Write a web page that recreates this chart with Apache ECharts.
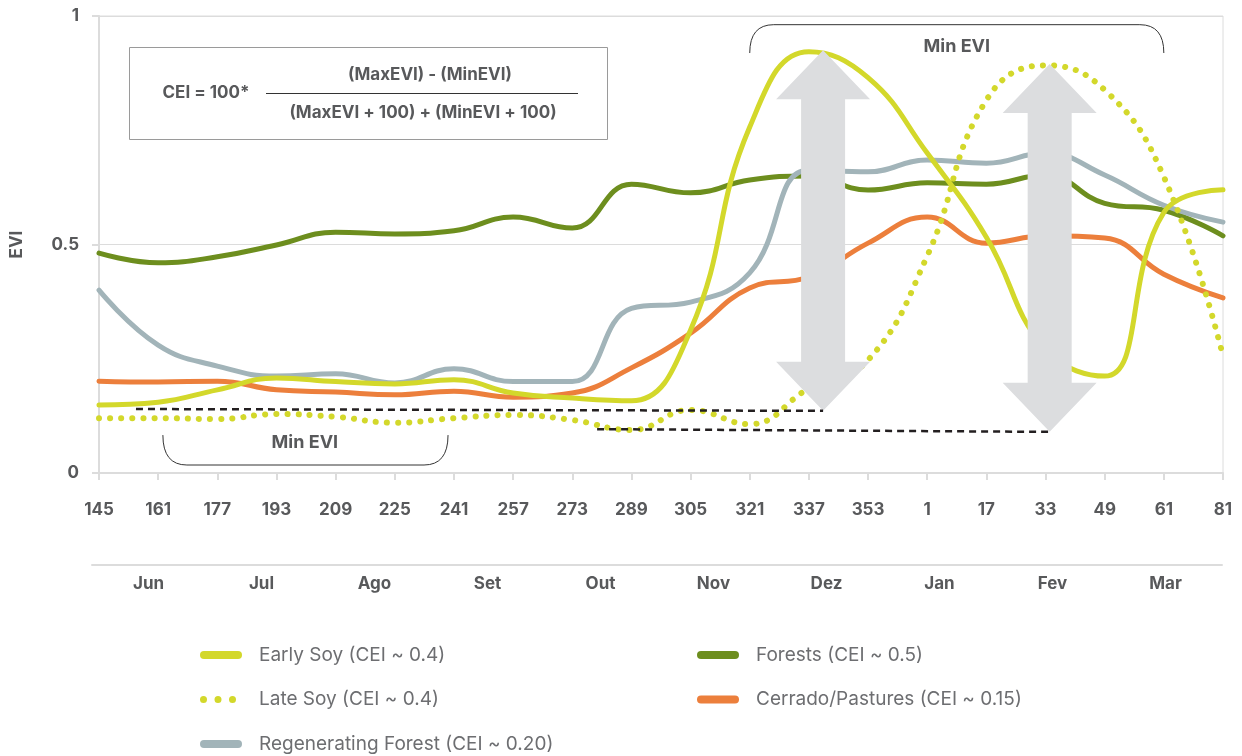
<!DOCTYPE html>
<html>
<head>
<meta charset="utf-8">
<script src="https://cdn.jsdelivr.net/npm/echarts@6/dist/echarts.min.js"></script>
<style>
  html, body { margin: 0; padding: 0; background: #fff; }
  #chart { width: 1242px; height: 756px; }
</style>
</head>
<body>
<div id="chart"></div>
<script>
// day-of-year ticks and months
const days = ['145', '161', '177', '193', '209', '225', '241', '257', '273', '289',
  '305', '321', '337', '353', '1', '17', '33', '49', '61', '81'];
const months = ['Jun', 'Jul', 'Ago', 'Set', 'Out', 'Nov', 'Dez', 'Jan', 'Fev', 'Mar'];

// EVI
const earlySoy = [0.149, 0.155, 0.182, 0.208, 0.200, 0.195, 0.204, 0.175, 0.164, 0.158,
  0.313, 0.757, 0.922, 0.865, 0.700, 0.516, 0.270, 0.212, 0.570, 0.620];
const lateSoy = [0.120, 0.120, 0.118, 0.129, 0.123, 0.110, 0.120, 0.127, 0.116, 0.094,
  0.138, 0.107, 0.185, 0.247, 0.475, 0.816, 0.892, 0.838, 0.648, 0.256];
const forests = [0.481, 0.460, 0.473, 0.499, 0.527, 0.523, 0.530, 0.560, 0.536, 0.632,
  0.613, 0.641, 0.650, 0.619, 0.635, 0.632, 0.652, 0.590, 0.575, 0.519];
const regenForest = [0.400, 0.280, 0.234, 0.212, 0.217, 0.197, 0.228, 0.200, 0.200, 0.360,
  0.374, 0.438, 0.663, 0.659, 0.685, 0.678, 0.700, 0.652, 0.586, 0.549];
const cerrado = [0.201, 0.199, 0.201, 0.182, 0.177, 0.171, 0.179, 0.166, 0.175, 0.230,
  0.306, 0.405, 0.429, 0.503, 0.560, 0.503, 0.519, 0.514, 0.435, 0.383];

const names = {
  early: 'Early Soy (CEI ~ 0.4)',
  late: 'Late Soy (CEI ~ 0.4)',
  regen: 'Regenerating Forest (CEI ~ 0.20)',
  forest: 'Forests (CEI ~ 0.5)',
  cerrado: 'Cerrado/Pastures (CEI ~ 0.15)',
};

const colors = {
  early: '#d3d82b',
  forest: '#6d8e1e',
  regen: '#a2b4b9',
  cerrado: '#ec7f3c',
};

const FONT = 'Inter';
const TXT = '#58595b';

// legend icons: pill and three dots, padded to 54 wide so the text sits further right
const pillIcon = 'path://M4,0 L38,0 A4,4 0 0 1 38,8 L4,8 A4,4 0 0 1 4,0 Z M54,0';
const dotsIcon = 'path://M0,4 a3.5,3.5 0 1,0 7,0 a3.5,3.5 0 1,0 -7,0 Z ' +
  'M14.5,4 a3.5,3.5 0 1,0 7,0 a3.5,3.5 0 1,0 -7,0 Z ' +
  'M29,4 a3.5,3.5 0 1,0 7,0 a3.5,3.5 0 1,0 -7,0 Z M0,0 M54,8';

const chart = echarts.init(document.getElementById('chart'));

const lineSeries = (name, data, color, extra) => Object.assign({
  name: name,
  type: 'line',
  data: data,
  smooth: 0.45,
  symbol: 'none',
  color: color,
  lineStyle: { width: 5, color: color, cap: 'round' },
  emphasis: { disabled: true },
}, extra || {});

const legendBase = {
  orient: 'vertical',
  padding: 0,
  height: 130,
  itemWidth: 54,
  itemHeight: 8,
  itemGap: 22.5,
  selectedMode: false,
  itemStyle: { borderWidth: 0 },
  textStyle: { fontFamily: FONT, fontSize: 19, color: '#6d6e71', lineHeight: 22 },
};

const axisFont = { fontFamily: FONT, fontWeight: 'bold', fontSize: 17, color: TXT };

chart.setOption({
  animation: false,
  grid: [
    { left: 99, right: 19, top: 16, bottom: 283, show: true, borderColor: '#dcdcdc', borderWidth: 1 },
    { left: 92, right: 20, top: 564, height: 1 },
  ],
  xAxis: [
    {
      type: 'category',
      data: days,
      boundaryGap: false,
      axisLine: { lineStyle: { color: '#dcdcdc', width: 2 } },
      axisTick: { length: 7, lineStyle: { color: '#dcdcdc', width: 2 } },
      axisLabel: Object.assign({ margin: 28, interval: 0 }, axisFont),
      splitLine: { show: false },
    },
    {
      type: 'category',
      gridIndex: 1,
      data: months,
      boundaryGap: true,
      axisLine: { lineStyle: { color: '#dcdcdc', width: 2 } },
      axisTick: { length: 9, lineStyle: { color: '#dcdcdc', width: 2 } },
      axisLabel: Object.assign({ margin: 10 }, axisFont),
    },
  ],
  yAxis: [
    {
      type: 'value',
      min: 0,
      max: 1,
      interval: 0.5,
      name: 'EVI',
      nameLocation: 'middle',
      nameRotate: 90,
      nameGap: 74,
      nameTextStyle: axisFont,
      axisLine: { show: true, lineStyle: { color: '#dcdcdc', width: 2 } },
      axisTick: { show: true, length: 7, lineStyle: { color: '#dcdcdc', width: 2 } },
      axisLabel: Object.assign({ margin: 20 }, axisFont),
      splitLine: { lineStyle: { color: '#dcdcdc', width: 1 } },
    },
    { type: 'value', gridIndex: 1, show: false },
  ],
  legend: [
    Object.assign({}, legendBase, {
      left: 200,
      top: 644,
      data: [
        { name: names.early, icon: pillIcon },
        { name: names.late, icon: dotsIcon },
        { name: names.regen, icon: pillIcon },
      ],
    }),
    Object.assign({}, legendBase, {
      left: 697,
      top: 644,
      data: [
        { name: names.forest, icon: pillIcon },
        { name: names.cerrado, icon: pillIcon },
      ],
    }),
  ],
  series: [
    lineSeries(names.forest, forests, colors.forest),
    lineSeries(names.regen, regenForest, colors.regen),
    lineSeries(names.cerrado, cerrado, colors.cerrado),
    lineSeries(names.late, lateSoy, colors.early, {
      lineStyle: { width: 6, color: colors.early, type: [0.1, 11], cap: 'round' },
    }),
    lineSeries(names.early, earlySoy, colors.early),
  ],
});

// annotations anchored in data space (category index, EVI)
const pt = (i, v) => {
  const i0 = Math.floor(i);
  const i1 = Math.min(i0 + 1, days.length - 1);
  const a = chart.convertToPixel({ gridIndex: 0 }, [i0, v]);
  const b = chart.convertToPixel({ gridIndex: 0 }, [i1, v]);
  return [a[0] + (b[0] - a[0]) * (i - i0), a[1]];
};

const arrows = [
  { i: 12.24, top: 0.925, bottom: 0.136 },
  { i: 16.07, top: 0.895, bottom: 0.090 },
];
const dashes = [
  { from: [0.625, 0.140], to: [12.24, 0.136] },
  { from: [8.42, 0.096], to: [16.07, 0.090] },
];

const arrowShape = (a) => {
  const t = pt(a.i, a.top);
  const b = pt(a.i, a.bottom);
  const cx = t[0], hw = 47, sw = 22, hl = 49;
  return [
    [cx, t[1]], [cx + hw, t[1] + hl], [cx + sw, t[1] + hl], [cx + sw, b[1] - hl],
    [cx + hw, b[1] - hl], [cx, b[1]], [cx - hw, b[1] - hl], [cx - sw, b[1] - hl],
    [cx - sw, t[1] + hl], [cx - hw, t[1] + hl],
  ];
};

const stroke = { fill: null, stroke: '#333', lineWidth: 1 };

// rounded bracket: two quadratic corners joined by a straight bar
const bracket = (i1, i2, vEdge, vBar, rx) => {
  const p1 = pt(i1, vEdge), p2 = pt(i2, vEdge);
  const y = pt(i1, vBar)[1];
  return [
    { type: 'bezierCurve', z: 110, shape: { x1: p1[0], y1: p1[1], cpx1: p1[0], cpy1: y, x2: p1[0] + rx, y2: y }, style: stroke },
    { type: 'line', z: 110, shape: { x1: p1[0] + rx, y1: y, x2: p2[0] - rx, y2: y }, style: stroke },
    { type: 'bezierCurve', z: 110, shape: { x1: p2[0] - rx, y1: y, cpx1: p2[0], cpy1: y, x2: p2[0], y2: p2[1] }, style: stroke },
  ];
};

const boldText = (x, y, text, size) => ({
  type: 'text', z: 120, x: x, y: y,
  style: { text: text, fill: TXT, font: 'bold ' + size + 'px ' + FONT, align: 'center', verticalAlign: 'middle' },
});

const label = (i, v, text) => {
  const p = pt(i, v);
  return boldText(p[0], p[1], text, 18);
};

const graphics = [];
arrows.forEach((a) => {
  graphics.push({ type: 'polygon', z: 100, shape: { points: arrowShape(a) }, style: { fill: '#dcdddf' } });
});
dashes.forEach((d) => {
  const p1 = pt(d.from[0], d.from[1]), p2 = pt(d.to[0], d.to[1]);
  graphics.push({
    type: 'line', z: 110,
    shape: { x1: p1[0], y1: p1[1], x2: p2[0], y2: p2[1] },
    style: { stroke: '#231f20', lineWidth: 2.5, lineDash: [7, 5] },
  });
});
bracket(1.08, 5.9, 0.083, 0.0175, 24).forEach((g) => graphics.push(g));
bracket(11.0, 18.0, 0.919, 0.981, 24).forEach((g) => graphics.push(g));
graphics.push(label(3.48, 0.0656, 'Min EVI'));
graphics.push(label(14.5, 0.932, 'Min EVI'));

// CEI formula box
graphics.push({
  type: 'rect', z: 90,
  shape: { x: 129.5, y: 47.5, width: 478, height: 92 },
  style: { fill: '#fff', stroke: '#9a9a9a', lineWidth: 1 },
});
graphics.push(boldText(206, 93, 'CEI = 100*', 17));
graphics.push(boldText(430, 75, '(MaxEVI) - (MinEVI)', 17));
graphics.push({
  type: 'line', z: 120,
  shape: { x1: 266, y1: 93.5, x2: 578, y2: 93.5 },
  style: { stroke: '#333', lineWidth: 1 },
});
graphics.push(boldText(423, 113, '(MaxEVI + 100) + (MinEVI + 100)', 17));

chart.setOption({ graphic: graphics });
</script>
</body>
</html>
